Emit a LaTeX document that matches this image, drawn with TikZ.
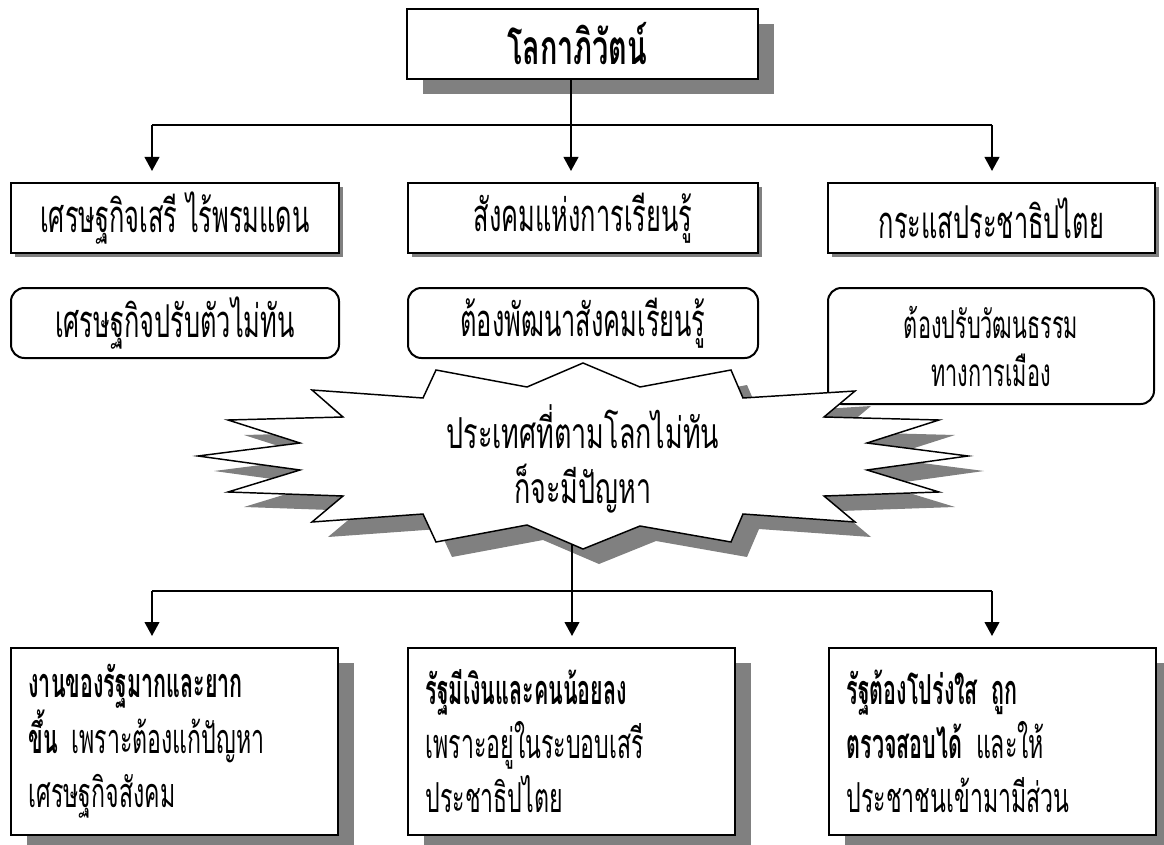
\documentclass[tikz,border=0pt]{standalone}
\usepackage{fontspec}
\newfontfamily\thai[Script=Thai,FakeStretch=0.56,BoldFeatures={FakeStretch=0.52}]{Loma}
\newfontfamily\thaiw[Script=Thai,FakeStretch=0.63,BoldFeatures={FakeStretch=0.6}]{Loma}
\usetikzlibrary{arrows.meta,shadows,calc}
\definecolor{shadowgray}{RGB}{128,128,128}
\begin{document}
\begin{tikzpicture}[x=0.75pt,y=-0.75pt,
  bigshadow/.style={general shadow={fill=shadowgray,shadow xshift=12pt,shadow yshift=-11.25pt}},
  smallshadow/.style={general shadow={fill=shadowgray,shadow xshift=3.2pt,shadow yshift=-3.2pt}},
  box/.style={draw=black,line width=1.9pt,fill=white,inner sep=0pt,
    font=\thai\fontsize{34}{40}\selectfont},
  rbox/.style={draw=black,line width=1.5pt,fill=white,rounded corners=10pt,inner sep=0pt,
    font=\thai\fontsize{34}{40}\selectfont},
  tallbox/.style={box,align=left,inner xsep=12.75pt,text width=219pt,
    minimum width=245.25pt,minimum height=140.25pt,font=\thai\fontsize{31}{40.5}\selectfont},
  conn/.style={line width=1.5pt},
  arr/.style={conn,-{Triangle[width=11pt,length=10.5pt]}}]
\useasboundingbox (0,0) rectangle (1164,845);
% top
\node[box,bigshadow,minimum width=263.25pt,minimum height=52.5pt,font=\thaiw\bfseries\fontsize{36}{40}\selectfont] (top) at (582.5,44) {\hspace*{-8pt}โลกาภิวัตน์};
% middle row
\node[box,smallshadow,minimum width=246pt,minimum height=52.5pt] (m1) at (175,218) {เศรษฐกิจเสรี ไร้พรมแดน};
\node[box,smallshadow,minimum width=262.5pt,minimum height=52.5pt] (m2) at (583,218) {สังคมแห่งการเรียนรู้};
\node[box,smallshadow,minimum width=245.25pt,minimum height=52.5pt] (m3) at (991.5,218) {กระแสประชาธิปไตย};
% rounded row
\node[rbox,minimum width=246pt,minimum height=52.5pt] (r1) at (175,323) {เศรษฐกิจปรับตัวไม่ทัน};
\node[rbox,minimum width=262.5pt,minimum height=52.5pt] (r2) at (583,323) {ต้องพัฒนาสังคมเรียนรู้};
\node[rbox,minimum width=244.5pt,minimum height=87pt,align=center,
  font=\thai\fontsize{29}{36}\selectfont] (r3) at (991,346) {ต้องปรับวัฒนธรรม\\ทางการเมือง};
% connectors top
\coordinate (j1) at (571,125);
\coordinate (a1) at (152,171);
\coordinate (a2) at (571,171);
\coordinate (a3) at (992,171);
\draw[conn] (top.south -| j1) -- (j1);
\draw[conn] (a1 |- j1) -- (a3 |- j1);
\draw[arr] (a1 |- j1) -- (a1);
\draw[arr] (j1) -- (a2);
\draw[arr] (a3 |- j1) -- (a3);
% star
\fill[shadowgray,shift={(16,15)}] (583,363) -- (640,387) -- (731,370) -- (743,398) -- (855,391) -- (824,417) -- (939,420) -- (867,443) -- (968,456) -- (867,470) -- (939,492) -- (824,496) -- (855,522) -- (743,514) -- (731,542) -- (640,526) -- (583,549) -- (527,525) -- (436,542) -- (423,514) -- (312,522) -- (343,496) -- (228,492) -- (300,470) -- (198,456) -- (300,443) -- (228,420) -- (343,417) -- (312,390) -- (423,398) -- (436,370) -- (527,387) -- cycle;
\draw[fill=white,line width=1.1pt,line join=miter] (583,363) -- (640,387) -- (731,370) -- (743,398) -- (855,391) -- (824,417) -- (939,420) -- (867,443) -- (968,456) -- (867,470) -- (939,492) -- (824,496) -- (855,522) -- (743,514) -- (731,542) -- (640,526) -- (583,549) -- (527,525) -- (436,542) -- (423,514) -- (312,522) -- (343,496) -- (228,492) -- (300,470) -- (198,456) -- (300,443) -- (228,420) -- (343,417) -- (312,390) -- (423,398) -- (436,370) -- (527,387) -- cycle;
\node[align=center,inner sep=0pt,font=\thaiw\fontsize{32}{41.25}\selectfont] (st) at (583,459) {ประเทศที่ตามโลกไม่ทัน\\ก็จะมีปัญหา};
% bottom row
\node[tallbox,bigshadow] (b1) at (174.5,741.5) {\textbf{งานของรัฐมากและยาก}\\\textbf{ขึ้น} เพราะต้องแก้ปัญหา\\เศรษฐกิจสังคม};
\node[tallbox,bigshadow] (b2) at (571.5,741.5) {\textbf{รัฐมีเงินและคนน้อยลง}\\เพราะอยู่ในระบอบเสรี\\ประชาธิปไตย};
\node[tallbox,bigshadow] (b3) at (992.5,741.5) {\textbf{รัฐต้องโปร่งใส ถูก}\\\textbf{ตรวจสอบได้} และให้\\ประชาชนเข้ามามีส่วน};
% connectors bottom
\coordinate (sb) at (572,544);
\coordinate (j2) at (572,591);
\coordinate (c1) at (152,636);
\coordinate (c2) at (572,636);
\coordinate (c3) at (992,636);
\draw[conn] (sb) -- (j2);
\draw[conn] (c1 |- j2) -- (c3 |- j2);
\draw[arr] (c1 |- j2) -- (c1);
\draw[arr] (j2) -- (c2);
\draw[arr] (c3 |- j2) -- (c3);
\end{tikzpicture}
\end{document}
